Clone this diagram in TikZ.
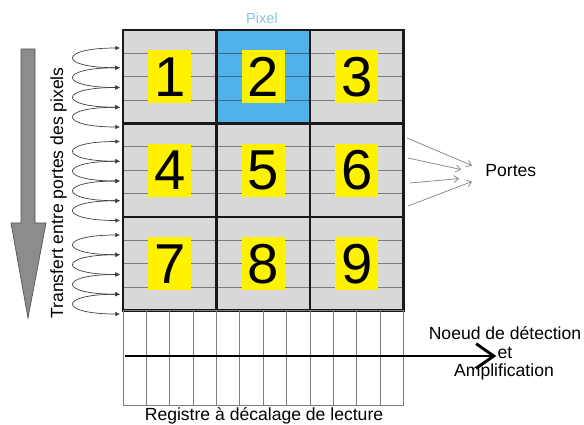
\documentclass[tikz,border=0pt]{standalone}
\usepackage{fontspec}
\setmainfont{Liberation Sans}
\usetikzlibrary{arrows.meta}

\definecolor{cellgray}{RGB}{216,216,216}
\definecolor{pixblue}{RGB}{80,178,232}
\definecolor{gateline}{RGB}{125,125,125}
\definecolor{pixtext}{RGB}{135,198,224}
\definecolor{transgray}{RGB}{140,140,140}

\begin{document}
\begin{tikzpicture}[x=0.03cm, y=-0.03cm,
	every node/.style={font=\fontsize{15}{18}\selectfont, inner sep=1pt},
	>={Latex[length=4pt, width=4pt]},
	digitbox/.style={fill=yellow, minimum width=1.29cm, minimum height=1.59cm, inner sep=0pt, font=\fontsize{48}{48}\selectfont},
	cellwall/.style={line width=2.5pt, black!90},
	gate/.style={gateline, line width=0.7pt},
	hop/.style={<->, black!75, line width=0.6pt},
	portarrow/.style={-{Straight Barb[length=4pt, width=6pt]}, gray, line width=0.6pt}]
	\useasboundingbox (0,0) rectangle (584,425);
	% transfer between pixel gates
	\filldraw[fill=transgray, draw=transgray!60!black, line width=0.6pt] (21,49) -- (35,49) -- (35,223) -- (46,223) -- (28,318) -- (11,223) -- (21,223) -- cycle;
	\node[rotate=90, anchor=base] (transfert) at (63,193) {Transfert entre portes des pixels};
	\foreach \r in {0,1,2}
		\foreach \k in {0,...,3} {
			\coordinate (a) at (120,48+93.5*\r+19.75*\k);
			\coordinate (b) at (120,67.75+93.5*\r+19.75*\k);
			\draw[hop] (a) .. controls +(-62,0) and +(-62,0) .. (b);
		}
	% pixels
	\fill[cellgray] (123,30) rectangle (403.5,310.5);
	\fill[pixblue] (216.5,30) rectangle (310,123.5);
	\foreach \r in {0,1,2}
		\foreach \k in {1,2,3}
			\draw[gate] (123,30+93.5*\r+23.375*\k) -- ++(280.5,0);
	\foreach \k in {1,2,3}
		\draw[gate, pixblue!60!black] (216.5,30+23.375*\k) -- ++(93.5,0);
	\foreach \r in {0,1,2}
		\foreach \c in {0,1,2} {
			\pgfmathtruncatemacro{\n}{3*\r+\c+1}
			\node[digitbox] (p\n) at (169.75+93.5*\c,76.75+93.5*\r) {\n};
		}
	\draw[cellwall] (123,30) rectangle (403.5,310.5);
	\draw[cellwall] (216.5,30) -- (216.5,310.5) (310,30) -- (310,310.5) (123,123.5) -- (403.5,123.5) (123,217) -- (403.5,217);
	\node[text=pixtext, anchor=base, font=\fontsize{12.5}{15}\selectfont] (pixel) at (262,24) {Pixel};
	% gates
	\node[anchor=base west] (portes) at (484,177) {Portes};
	\coordinate (g1) at (407,138);
	\coordinate (g2) at (408,158);
	\coordinate (g3) at (410,183);
	\coordinate (g4) at (408,206);
	\draw[portarrow] (g1) -- ([shift={(-12,-5.5)}]portes.west);
	\draw[portarrow] (g2) -- ([shift={(-23,-1.5)}]portes.west);
	\draw[portarrow] (g3) -- ([shift={(-25,7.5)}]portes.west);
	\draw[portarrow] (g4) -- ([shift={(-12,10.5)}]portes.west);
	% readout register
	\draw[gate] (123,310.5) rectangle (403.5,405);
	\foreach \i in {1,...,11}
		\draw[gate] (123+23.375*\i,310.5) -- (123+23.375*\i,405);
	\coordinate (regstart) at (125,356);
	\node[anchor=base] (noeud) at (505,339) {Noeud de détection};
	\node[anchor=base] (et) at (505,358) {et};
	\node[anchor=base] (ampli) at (504,376) {Amplification};
	\draw[line width=2.5pt, -{Straight Barb[length=15pt, width=21pt]}] (regstart) -- (et.west |- regstart);
	\node[anchor=base] (registre) at (264,420.5) {Registre à décalage de lecture};
\end{tikzpicture}
\end{document}
